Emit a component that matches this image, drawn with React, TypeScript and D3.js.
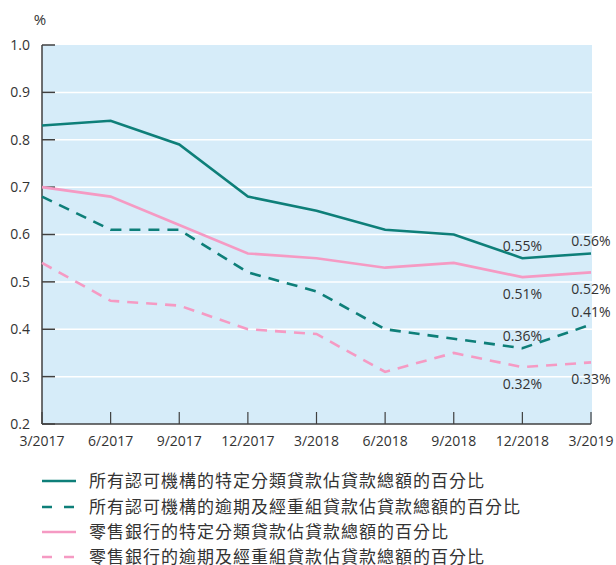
import React from "react";
import * as d3 from "d3";

const categories = ["3/2017", "6/2017", "9/2017", "12/2017", "3/2018", "6/2018", "9/2018", "12/2018", "3/2019"];
const allSpecial = [0.83, 0.84, 0.79, 0.68, 0.65, 0.61, 0.60, 0.55, 0.56];
const allOverdue = [0.68, 0.61, 0.61, 0.52, 0.48, 0.40, 0.38, 0.36, 0.41];
const retailSpecial = [0.70, 0.68, 0.62, 0.56, 0.55, 0.53, 0.54, 0.51, 0.52];
const retailOverdue = [0.54, 0.46, 0.45, 0.40, 0.39, 0.31, 0.35, 0.32, 0.33];
const yTicks = [0.2, 0.3, 0.4, 0.5, 0.6, 0.7, 0.8, 0.9, 1.0];
const seriesNames = [
  "所有認可機構的特定分類貸款佔貸款總額的百分比",
  "所有認可機構的逾期及經重組貸款佔貸款總額的百分比",
  "零售銀行的特定分類貸款佔貸款總額的百分比",
  "零售銀行的逾期及經重組貸款佔貸款總額的百分比",
];

const TEAL = "#0e7f79";
const PINK = "#f59ac3";
const TEXT = "#333333";
const AXIS = "#404040";
const FONT = "'Open Sans', 'Noto Sans CJK TC', sans-serif";
const CJK = "'Noto Sans CJK TC', sans-serif";

export default function App() {
  const W = 616, H = 565;
  const left = 42, right = 591, top = 45, bottom = 424;
  const x = d3.scalePoint<string>().domain(categories).range([left, right]);
  const y = d3.scaleLinear().domain([0.2, 1.0]).range([bottom, top]);
  const line = d3.line<number>().x((_, i) => x(categories[i])!).y((d) => y(d));

  const series = [
    { data: allSpecial, color: TEAL, dash: undefined },
    { data: allOverdue, color: TEAL, dash: "11,8" },
    { data: retailSpecial, color: PINK, dash: undefined },
    { data: retailOverdue, color: PINK, dash: "11,8" },
  ];

  const last = categories.length - 1;
  const prev = categories.length - 2;
  const labels = [
    { s: allSpecial, i: prev, dy: -12 },
    { s: allSpecial, i: last, dy: -12 },
    { s: retailSpecial, i: prev, dy: 17 },
    { s: retailSpecial, i: last, dy: 17 },
    { s: allOverdue, i: prev, dy: -12 },
    { s: allOverdue, i: last, dy: -12 },
    { s: retailOverdue, i: prev, dy: 17 },
    { s: retailOverdue, i: last, dy: 17 },
  ];

  const legendY = [481, 507, 532, 557];

  return (
    <svg width={W} height={H} style={{ position: "absolute", left: 0, top: 0, background: "#fff" }}>
      <rect x={left} y={top} width={right - left + 1} height={bottom - top} fill="#d6ecf9" />
      {yTicks.slice(1, -1).map((t) => (
        <line key={t} x1={left} x2={right + 1} y1={y(t)} y2={y(t)} stroke="#fff" strokeWidth={1.5} />
      ))}
      {yTicks.map((t) => (
        <g key={"yt" + t}>
          <line x1={left} x2={left + 13} y1={y(t)} y2={y(t)} stroke={AXIS} strokeWidth={1.5} />
          <text x={30} y={y(t)} dy="0.35em" textAnchor="end" fontFamily={FONT} fontSize={14} fill={TEXT}>
            {t.toFixed(1)}
          </text>
        </g>
      ))}
      {categories.map((c) => (
        <g key={c}>
          <line x1={x(c)} x2={x(c)} y1={bottom} y2={bottom - 12} stroke={AXIS} strokeWidth={1.2} />
          <text x={x(c)} y={446} textAnchor="middle" fontFamily={FONT} fontSize={14} fill={TEXT}>
            {c}
          </text>
        </g>
      ))}
      <line x1={left} x2={left} y1={top} y2={bottom} stroke={AXIS} strokeWidth={1.5} />
      <line x1={left} x2={right} y1={bottom} y2={bottom} stroke={AXIS} strokeWidth={1.5} />
      <text x={40} y={25} textAnchor="middle" fontFamily={FONT} fontSize={15} fill={TEXT}>%</text>

      {series.map((s, k) => (
        <path key={k} d={line(s.data)!} fill="none" stroke={s.color} strokeWidth={2.6} strokeDasharray={s.dash} />
      ))}

      {labels.map((l, k) => (
        <text key={k} x={x(categories[l.i])} y={y(l.s[l.i]) + l.dy} dy="0.35em" textAnchor="middle"
          fontFamily={FONT} fontSize={14} fill={TEXT}>
          {l.s[l.i].toFixed(2)}%
        </text>
      ))}

      {seriesNames.map((n, k) => (
        <g key={n}>
          <line x1={42} x2={76} y1={legendY[k]} y2={legendY[k]} stroke={series[k].color} strokeWidth={2.6}
            strokeDasharray={series[k].dash ? "10,12" : undefined} />
          <text x={89} y={legendY[k]} dy="0.36em" fontFamily={CJK} fontSize={17} letterSpacing={1} fill={TEXT}>
            {n}
          </text>
        </g>
      ))}
    </svg>
  );
}
